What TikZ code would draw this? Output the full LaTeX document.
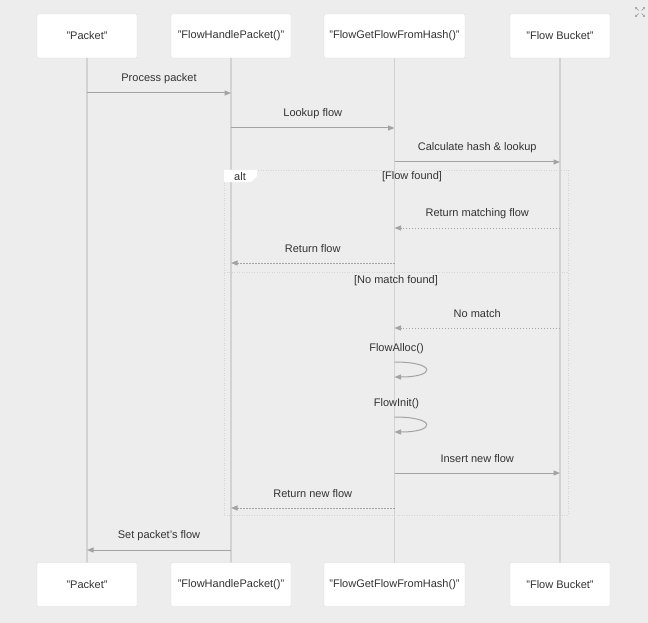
\documentclass[tikz,border=0pt]{standalone}
\usepackage{fontspec}
\setmainfont{Liberation Sans}
\usetikzlibrary{arrows.meta}
\usetikzlibrary{calc}

\definecolor{bgGrey}{HTML}{EDEDED}
\definecolor{boxLine}{HTML}{DADADA}
\definecolor{lifeGrey}{HTML}{D2D2D2}
\definecolor{arrowGrey}{HTML}{A3A3A3}
\definecolor{frameGrey}{HTML}{D4D4D4}
\definecolor{txtDark}{HTML}{333333}

\begin{document}
\begin{tikzpicture}[x=1pt, y=-1pt,
  actor/.style={draw=boxLine, fill=white, rounded corners=1pt, minimum height=44pt,
    inner sep=0pt, font=\fontsize{11}{13}\selectfont, text=txtDark},
  msgtxt/.style={font=\fontsize{11}{13}\selectfont, text=txtDark, inner sep=1pt},
  life/.style={draw=lifeGrey, line width=1.3pt},
  call/.style={draw=arrowGrey, line width=1pt, -{Triangle[length=6.5pt, width=5pt]}},
  reply/.style={call, dash pattern=on 1.5pt off 1.5pt},
  frame/.style={draw=frameGrey, line width=0.7pt, dash pattern=on 1pt off 1.5pt}]

%─────────────
% Canvas
%─────────────
\useasboundingbox (0,0) rectangle (648,623);
\fill[bgGrey] (0,0) rectangle (648,623);

% Lifelines (drawn first, boxes sit on top)
\coordinate (pktT) at (87,58);    \coordinate (pktD) at (87,563);
\coordinate (fhpT) at (231,58);   \coordinate (fhpD) at (231,563);
\coordinate (fgfT) at (394.5,58); \coordinate (fgfD) at (394.5,563);
\coordinate (bktT) at (560,58);   \coordinate (bktD) at (560,563);
\foreach \p in {pkt,fhp,fgf,bkt} {
  \draw[life] (\p T) -- (\p D);
}

%─────────────
% Participants (top and bottom)
%─────────────
\node[actor, minimum width=100pt] (pkt) at (87,36)    {"Packet"};
\node[actor, minimum width=120pt] (fhp) at (231,36)   {"FlowHandlePacket()"};
\node[actor, minimum width=141pt] (fgf) at (394.5,36) {"FlowGetFlowFromHash()"};
\node[actor, minimum width=100pt] (bkt) at (560,36)   {"Flow Bucket"};

\node[actor, minimum width=100pt] (pktB) at (87,584.5)    {"Packet"};
\node[actor, minimum width=120pt] (fhpB) at (231,584.5)   {"FlowHandlePacket()"};
\node[actor, minimum width=141pt] (fgfB) at (394.5,584.5) {"FlowGetFlowFromHash()"};
\node[actor, minimum width=100pt] (bktB) at (560,584.5)   {"Flow Bucket"};

%─────────────────────────────────────────────────────────────
% Message from lifeline #1 to lifeline #2 at height #3
%─────────────────────────────────────────────────────────────
\newcommand{\msg}[5]{%
  \coordinate (s#3) at (#1 |- 0,#3);
  \coordinate (e#3) at (#2 |- 0,#3);
  \draw[#5] (s#3) -- (e#3) node[msgtxt, midway, yshift=14pt] {#4};
}

% Self call on lifeline #1 starting at height #2
\newcommand{\selfMsg}[3]{%
  \coordinate (s#2) at (#1 |- 0,#2);
  \coordinate (e#2) at ($(s#2)+(0,15)$);
  \node[msgtxt] (t#2) at ($(s#2)+(2,-13)$) {#3};
  \draw[call] (s#2) .. controls +(42,0) and +(42,0) .. (e#2);
}

%─────────────
% alt frame
%─────────────
\coordinate (altNW) at (224,170);
\coordinate (altSE) at (568,515);
\draw[frame] (altNW) rectangle (altSE);
\draw[frame] (224,272) -- (568,272);
\fill[white] (224,170) -- (257,170) -- (257,176) -- (251,182) -- (224,182) -- cycle;
\node[msgtxt] (altTag) at (240,176.5) {alt};
\node[msgtxt] (caseA) at (412,177) {[Flow found]};
\node[msgtxt] (caseB) at (396,281) {[No match found]};

%─────────────
% Messages
%─────────────
\msg{pkt}{fhp}{93}{Process packet}{call}
\msg{fhp}{fgf}{128}{Lookup flow}{call}
\msg{fgf}{bkt}{162}{Calculate hash \& lookup}{call}
\msg{bkt}{fgf}{228}{Return matching flow}{reply}
\msg{fgf}{fhp}{263}{Return flow}{reply}
\msg{bkt}{fgf}{328}{No match}{reply}
\selfMsg{fgf}{362}{FlowAlloc()}
\selfMsg{fgf}{417}{FlowInit()}
\msg{fgf}{bkt}{473}{Insert new flow}{call}
\msg{fgf}{fhp}{508}{Return new flow}{reply}
\msg{fhp}{pkt}{550}{Set packet's flow}{call}

%─────────────
% Expand icon
%─────────────
\foreach \dx/\dy in {1/1,1/-1,-1/1,-1/-1} {
  \draw[arrowGrey, line width=0.7pt, -{Triangle[length=2pt, width=2.5pt]}]
    (640+1.5*\dx, 12+1.5*\dy) -- (640+5*\dx, 12+5*\dy);
}

\end{tikzpicture}
\end{document}
